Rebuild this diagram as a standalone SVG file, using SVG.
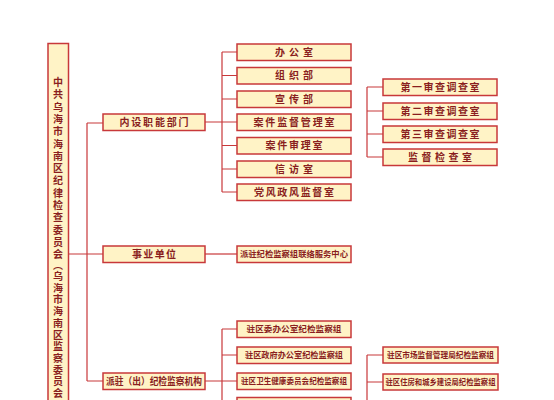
<svg xmlns="http://www.w3.org/2000/svg" width="554" height="400" viewBox="0 0 554 400">
<style>
.b{fill:#fff3c6;stroke:#c8383a;stroke-width:1.5}
.t{font-family:"Noto Sans CJK SC","Noto Sans",sans-serif;font-weight:bold;fill:#8a1e1e;text-anchor:middle}
.s{font-size:10px}
.m{font-size:8.5px}
.c{fill:none;stroke:#c8383a;stroke-width:1.2}
</style>
<rect width="554" height="400" fill="#ffffff"/>
<g id="connectors">
<path class="c" d="M69 254H103M87 123V381M87 123H103M87 381H103"/>
<path class="c" d="M205 122H222M222 52V192M222 52H237M222 75.5H237M222 99H237M222 122H237M222 145.5H237M222 169H237M222 192H237"/>
<path class="c" d="M367 87V157M367 87H383M367 111H383M367 134H383M367 157H383"/>
<path class="c" d="M205 254H237"/>
<path class="c" d="M205 381H222M222 329V400M222 329H237M222 355H237M222 381H237"/>
<path class="c" d="M367 355V400M367 355H383M367 382H383"/>
</g>
<g id="root">
<rect class="b" x="48" y="43.5" width="20.5" height="370"/>
<text class="t s" x="58 58 58 58 58 58 58 58 58 58 58 58 58 58 58 58 58 58 58 58 58 58 58 58 58 58 58" y="86 98.3 110.6 122.9 135.2 147.5 159.8 172.1 184.4 196.7 209 221.3 233.6 245.9 258.2 269 280 291.7 303.4 315.1 326.8 338.5 350.2 361.9 373.6 385.3 397">中共乌海市海南区纪律检查委员会︵乌海市海南区监察委员会</text>
</g>
<g id="n-neishe"><rect class="b" x="103" y="114" width="102" height="16.5"/><text class="t s" x="154" y="125.8" textLength="69" lengthAdjust="spacing">内设职能部门</text></g>
<g id="n-shiye"><rect class="b" x="103" y="246" width="102" height="16.5"/><text class="t s" x="154" y="257.8" textLength="44" lengthAdjust="spacing">事业单位</text></g>
<g id="n-paizhu"><rect class="b" x="103" y="373" width="102" height="16.5"/><text class="t s" x="154" y="384.8" textLength="96" lengthAdjust="spacingAndGlyphs">派驻（出）纪检监察机构</text></g>
<g id="n-bgs"><rect class="b" x="237" y="44" width="114" height="16.5"/><text class="t s" x="294" y="55.8" textLength="38" lengthAdjust="spacing">办公室</text></g>
<g id="n-zzb"><rect class="b" x="237" y="67.5" width="114" height="16.5"/><text class="t s" x="294" y="79.3" textLength="38" lengthAdjust="spacing">组织部</text></g>
<g id="n-xcb"><rect class="b" x="237" y="91" width="114" height="16.5"/><text class="t s" x="294" y="102.8" textLength="38" lengthAdjust="spacing">宣传部</text></g>
<g id="n-ajjd"><rect class="b" x="237" y="114" width="114" height="16.5"/><text class="t s" x="294" y="125.8" textLength="81" lengthAdjust="spacing">案件监督管理室</text></g>
<g id="n-ajsl"><rect class="b" x="237" y="137.5" width="114" height="16.5"/><text class="t s" x="294" y="149.3" textLength="57" lengthAdjust="spacing">案件审理室</text></g>
<g id="n-xfs"><rect class="b" x="237" y="161" width="114" height="16.5"/><text class="t s" x="294" y="172.8" textLength="38" lengthAdjust="spacing">信访室</text></g>
<g id="n-dfzf"><rect class="b" x="237" y="184" width="114" height="16.5"/><text class="t s" x="294" y="195.8" textLength="80" lengthAdjust="spacing">党风政风监督室</text></g>
<g id="n-d1"><rect class="b" x="383" y="79" width="114" height="16.5"/><text class="t s" x="440" y="90.8" textLength="79" lengthAdjust="spacing">第一审查调查室</text></g>
<g id="n-d2"><rect class="b" x="383" y="103" width="114" height="16.5"/><text class="t s" x="440" y="114.8" textLength="79" lengthAdjust="spacing">第二审查调查室</text></g>
<g id="n-d3"><rect class="b" x="383" y="126" width="114" height="16.5"/><text class="t s" x="440" y="137.8" textLength="79" lengthAdjust="spacing">第三审查调查室</text></g>
<g id="n-jdjc"><rect class="b" x="383" y="149" width="114" height="16.5"/><text class="t s" x="440" y="160.8" textLength="64" lengthAdjust="spacing">监督检查室</text></g>
<g id="n-lianluo"><rect class="b" x="237" y="246" width="114" height="16.5"/><text class="t m" x="294" y="257.3" textLength="108" lengthAdjust="spacingAndGlyphs">派驻纪检监察组联络服务中心</text></g>
<g id="n-qw"><rect class="b" x="237" y="321" width="114" height="16.5"/><text class="t m" x="294" y="332.3" textLength="95" lengthAdjust="spacingAndGlyphs">驻区委办公室纪检监察组</text></g>
<g id="n-zf"><rect class="b" x="237" y="347" width="114" height="16.5"/><text class="t m" x="294" y="358.3" textLength="98" lengthAdjust="spacingAndGlyphs">驻区政府办公室纪检监察组</text></g>
<g id="n-wj"><rect class="b" x="237" y="373" width="114" height="16.5"/><text class="t m" x="294" y="384.3" textLength="106" lengthAdjust="spacingAndGlyphs">驻区卫生健康委员会纪检监察组</text></g>
<g id="n-next"><rect class="b" x="237" y="397.5" width="114" height="16.5"/></g>
<g id="n-sc"><rect class="b" x="383" y="347" width="115" height="16"/><text class="t m" x="440.5" y="358" textLength="107" lengthAdjust="spacingAndGlyphs">驻区市场监督管理局纪检监察组</text></g>
<g id="n-zj"><rect class="b" x="383" y="374" width="115" height="16"/><text class="t m" x="440.5" y="385" textLength="110" lengthAdjust="spacingAndGlyphs">驻区住房和城乡建设局纪检监察组</text></g>
</svg>
